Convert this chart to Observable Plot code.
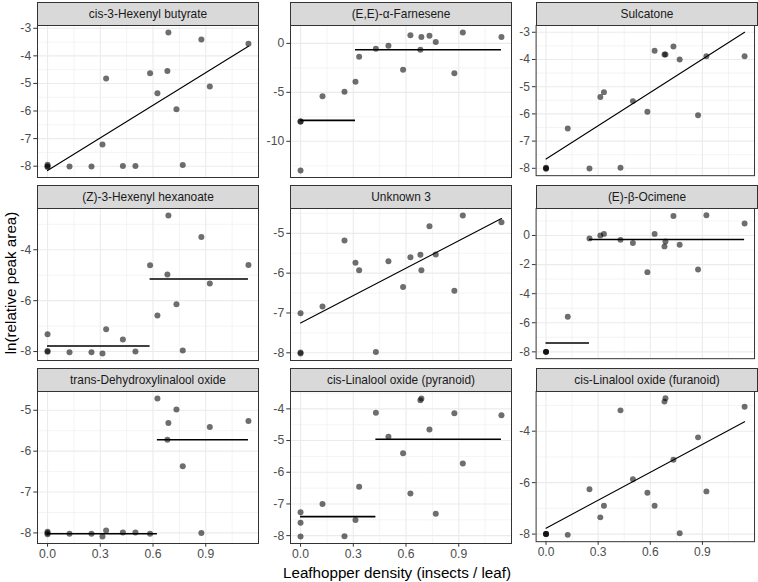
<!DOCTYPE html>
<html>
<head>
<meta charset="utf-8">
<script src="https://cdn.jsdelivr.net/npm/d3@7"></script>
<script src="https://cdn.jsdelivr.net/npm/@observablehq/plot@0.6"></script>
<style>
  html, body { margin: 0; padding: 0; background: #ffffff; }
  #wrap { position: relative; width: 758px; height: 582px; overflow: hidden; font-family: "Liberation Sans", Arial, sans-serif; }
  .strip { position: absolute; box-sizing: border-box; background: #d9d9d9; border: 1px solid #333333;
           color: #1a1a1a; font-size: 11.9px; text-align: center; white-space: nowrap; }
  .panel { position: absolute; }
  .panel svg { overflow: visible; }
  .ytitle { position: absolute; left: 10px; top: 283px; transform: translate(-50%, -50%) rotate(-90deg);
            font-size: 15.2px; color: #000; white-space: nowrap; }
  .xtitle { position: absolute; left: 397px; top: 572px; transform: translate(-50%, -50%);
            font-size: 15.2px; color: #000; white-space: nowrap; }
</style>
</head>
<body>
<div id="wrap"></div>
<script>
// ---------- data ----------
const density = [0, 0, 0, 0.125, 0.25, 0.3125, 0.3333, 0.4286, 0.5, 0.5833, 0.625, 0.6818, 0.6875, 0.7333, 0.7692, 0.875, 0.9231, 1.1429];

const compoundNames = [
  "cis-3-Hexenyl butyrate", "(E,E)-α-Farnesene", "Sulcatone",
  "(Z)-3-Hexenyl hexanoate", "Unknown 3", "(E)-β-Ocimene",
  "trans-Dehydroxylinalool oxide", "cis-Linalool oxide (pyranoid)", "cis-Linalool oxide (furanoid)"
];

const butyrate  = [-7.95, -8.0, -8.03, -8.01, -8.01, -7.21, -4.82, -7.99, -7.99, -4.63, -5.36, -4.55, -3.15, -5.94, -7.96, -3.41, -5.11, -3.56];
const farnesene = [-7.95, -8.0, -12.99, -5.41, -4.93, -3.91, -1.36, -0.54, -0.24, -2.69, 0.82, -0.65, 0.65, 0.78, 0.14, -3.06, 1.12, 0.65];
const sulcatone = [-7.98, -8.0, -8.02, -6.54, -8.01, -5.38, -5.20, -7.98, -5.53, -5.92, -3.68, -3.82, -3.82, -3.52, -4.0, -6.05, -3.88, -3.88];
const hexanoate = [-7.32, -7.98, -8.01, -8.03, -8.03, -8.08, -7.12, -7.53, -8.0, -4.61, -6.58, -4.97, -2.65, -6.14, -7.96, -3.5, -5.33, -4.6];
const unknown3  = [-7.01, -7.99, -8.02, -6.84, -5.18, -5.74, -5.93, -7.98, -5.70, -6.35, -5.60, -5.54, -5.93, -4.82, -5.53, -6.44, -4.55, -4.72];
const ocimene   = [-8.0, -8.0, -8.0, -5.59, -0.2, 0.0, 0.11, -0.30, -0.52, -2.52, 0.11, -0.75, -0.41, 1.34, -0.64, -2.34, 1.39, 0.82];
const dehydroxy = [-7.97, -8.0, -8.03, -8.02, -8.02, -8.09, -7.94, -7.99, -7.99, -8.02, -4.71, -5.72, -5.31, -4.98, -6.37, -8.0, -5.41, -5.26];
const pyranoid  = [-7.26, -7.59, -8.03, -7.0, -8.02, -7.51, -6.46, -4.12, -4.88, -5.40, -6.67, -3.73, -3.67, -4.65, -7.31, -4.14, -5.72, -4.2];
const furanoid  = [-8.0, -8.0, -8.0, -8.03, -6.26, -7.35, -6.9, -3.19, -5.87, -6.39, -6.9, -2.85, -2.72, -5.11, -7.97, -4.24, -6.34, -3.05];

// fitted straight lines: [x, y] end points
const butyrateFit  = [[0, -8.16], [1.1429, -3.65]];
const sulcatoneFit = [[0, -7.66], [1.1429, -3.0]];
const unknown3Fit  = [[0, -7.25], [1.1429, -4.63]];
const furanoidFit  = [[0, -7.77], [1.1429, -3.63]];

// fitted step levels: [x start, x end, y]
const farneseneSteps = [[0, 0.3125, -7.86], [0.3125, 1.1429, -0.65]];
const hexanoateSteps = [[0, 0.5833, -7.78], [0.5833, 1.1429, -5.15]];
const ocimeneSteps   = [[0, 0.25, -7.39], [0.25, 1.1429, -0.27]];
const dehydroxySteps = [[0, 0.625, -8.02], [0.625, 1.1429, -5.72]];
const pyranoidSteps  = [[0, 0.4286, -7.40], [0.4286, 1.1429, -4.96]];

// tick labels
const xTicks = [0, 0.3, 0.6, 0.9];
const butyrateTicks  = [-8, -7, -6, -5, -4, -3];
const farneseneTicks = [-10, -5, 0];
const sulcatoneTicks = [-8, -7, -6, -5, -4, -3];
const hexanoateTicks = [-8, -6, -4];
const unknown3Ticks  = [-8, -7, -6, -5];
const ocimeneTicks   = [-8, -6, -4, -2, 0];
const dehydroxyTicks = [-8, -7, -6, -5];
const pyranoidTicks  = [-8, -7, -6, -5, -4];
const furanoidTicks  = [-8, -6, -4];

const xTitle = "Leafhopper density (insects / leaf)";
const yTitle = "ln(relative peak area)";

// ---------- assemble ----------
const panels = [
  {values: butyrate,  fit: butyrateFit,  steps: null,           ticks: butyrateTicks},
  {values: farnesene, fit: null,         steps: farneseneSteps, ticks: farneseneTicks},
  {values: sulcatone, fit: sulcatoneFit, steps: null,           ticks: sulcatoneTicks},
  {values: hexanoate, fit: null,         steps: hexanoateSteps, ticks: hexanoateTicks},
  {values: unknown3,  fit: unknown3Fit,  steps: null,           ticks: unknown3Ticks},
  {values: ocimene,   fit: null,         steps: ocimeneSteps,   ticks: ocimeneTicks},
  {values: dehydroxy, fit: null,         steps: dehydroxySteps, ticks: dehydroxyTicks},
  {values: pyranoid,  fit: null,         steps: pyranoidSteps,  ticks: pyranoidTicks},
  {values: furanoid,  fit: furanoidFit,  steps: null,           ticks: furanoidTicks}
].map((p, i) => ({...p, name: compoundNames[i]}));

const wrap = document.getElementById("wrap");
const colLeft = [37, 290, 536];
const panelW = 221;
const panelTop = [25, 208, 391];
const panelH = 152;
const stripH = 23;
const mL = 34, mT = 4, mR = 4;

function expand([a, b]) { const r = b - a; return [a - 0.05 * r, b + 0.05 * r]; }
const xDomain = expand(d3.extent(density));
const xMinor = xTicks.map(t => t + 0.15).concat([xTicks[0] - 0.15]).filter(t => t > xDomain[0] && t < xDomain[1]);

const gridColor = "#ebebeb";

panels.forEach((p, i) => {
  const row = Math.floor(i / 3), col = i % 3;
  const pts = density.map((x, k) => ({x, y: p.values[k]}));
  const lineYs = p.fit ? p.fit.map(d => d[1]) : p.steps.map(d => d[2]);
  const yDomain = expand(d3.extent(p.values.concat(lineYs)));
  const step = p.ticks[1] - p.ticks[0];
  const yMinor = p.ticks.map(t => t - step / 2).concat([p.ticks[p.ticks.length - 1] + step / 2])
    .filter(t => t > yDomain[0] && t < yDomain[1]);
  const bottom = row === 2;
  const mB = bottom ? 22 : 4;

  const marks = [
    Plot.gridX(xMinor, {stroke: gridColor, strokeOpacity: 1, strokeWidth: 0.55}),
    Plot.gridY(yMinor, {stroke: gridColor, strokeOpacity: 1, strokeWidth: 0.55}),
    Plot.gridX(xTicks, {stroke: gridColor, strokeOpacity: 1, strokeWidth: 1.1}),
    Plot.gridY(p.ticks, {stroke: gridColor, strokeOpacity: 1, strokeWidth: 1.1}),
    Plot.axisY(p.ticks, {tickSize: 3.7, tickPadding: 2.6, stroke: "#333333", fill: "#4d4d4d",
                         fontSize: 12.2, tickFormat: d => String(d), strokeWidth: 1, label: null}),
    Plot.dot(pts, {x: "x", y: "y", r: 3, fill: "#000000", fillOpacity: 0.57})
  ];
  if (bottom) {
    marks.push(Plot.axisX(xTicks, {tickSize: 3.7, tickPadding: 2.4, stroke: "#333333", fill: "#4d4d4d",
                                   fontSize: 12.2, tickFormat: d3.format(".1f"), strokeWidth: 1, label: null}));
  }
  if (p.fit) {
    marks.push(Plot.line(p.fit, {x: d => d[0], y: d => d[1], stroke: "#000000", strokeWidth: 1.1}));
  } else {
    marks.push(Plot.ruleY(p.steps, {x1: d => d[0], x2: d => d[1], y: d => d[2], stroke: "#000000", strokeWidth: 1.6}));
  }
  marks.push(Plot.frame({stroke: "#333333", strokeWidth: 1}));

  const chart = Plot.plot({
    width: mL + panelW + mR,
    height: mT + panelH + mB,
    marginLeft: mL, marginRight: mR, marginTop: mT, marginBottom: mB,
    x: {domain: xDomain, axis: null, label: null},
    y: {domain: yDomain, axis: null, label: null},
    style: {fontFamily: "'Liberation Sans', Arial, sans-serif", fontSize: "12.2px", background: "transparent", overflow: "visible"},
    marks
  });
  const holder = document.createElement("div");
  holder.className = "panel";
  holder.style.left = (colLeft[col] - mL) + "px";
  holder.style.top = (panelTop[row] - mT) + "px";
  holder.appendChild(chart);
  wrap.appendChild(holder);

  const strip = document.createElement("div");
  strip.className = "strip";
  strip.style.left = colLeft[col] + "px";
  strip.style.top = (panelTop[row] - stripH) + "px";
  strip.style.width = (panelW + 1) + "px";
  strip.style.height = (stripH + 1) + "px";
  strip.style.lineHeight = (stripH - 1) + "px";
  strip.textContent = p.name;
  wrap.appendChild(strip);
});

const yt = document.createElement("div");
yt.className = "ytitle"; yt.textContent = yTitle; wrap.appendChild(yt);
const xt = document.createElement("div");
xt.className = "xtitle"; xt.textContent = xTitle; wrap.appendChild(xt);
</script>
</body>
</html>
